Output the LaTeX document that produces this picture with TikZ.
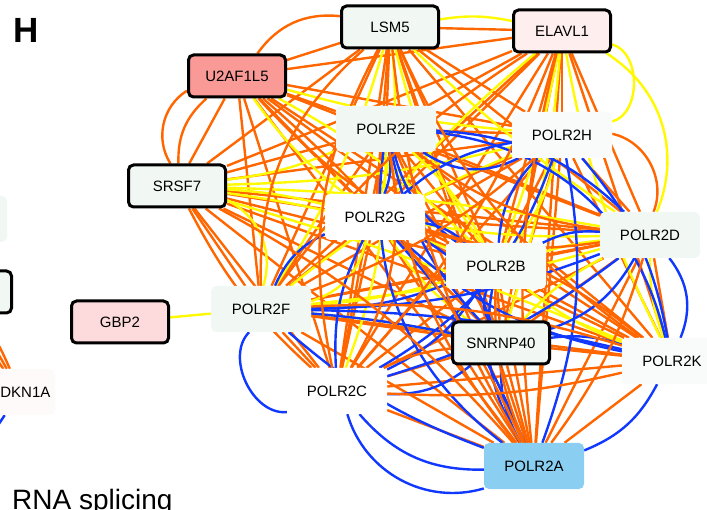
\documentclass[tikz,border=0pt]{standalone}
\usepackage{fontspec}
\setmainfont{Liberation Sans}
\usetikzlibrary{backgrounds}
\definecolor{edgeorange}{RGB}{255,102,0}
\definecolor{edgeyellow}{RGB}{255,250,0}
\definecolor{edgeblue}{RGB}{16,56,255}
\definecolor{palegreen}{RGB}{241,248,244}
\definecolor{paleblue}{RGB}{138,207,242}
\definecolor{salmon}{RGB}{249,154,151}
\definecolor{palepink}{RGB}{253,218,219}
\definecolor{blush}{RGB}{255,238,238}

\begin{document}
\begin{tikzpicture}[x=1pt,y=-1pt,
gene/.style={rounded corners=5pt, minimum width=100pt, minimum height=46pt, inner sep=0pt, fill=palegreen, font=\fontsize{15}{17}\selectfont},
hub/.style={gene, draw, line width=3pt, minimum width=97pt, minimum height=42pt},
oe/.style={draw=edgeorange, line width=2.4pt},
ye/.style={draw=edgeyellow, line width=2.4pt},
be/.style={draw=edgeblue, line width=2.4pt}
]
\useasboundingbox (0,0) rectangle (707,510);
\node[font=\bfseries\fontsize{35}{35}\selectfont, anchor=base west, inner sep=0pt] (panel) at (13,43) {H};
\node[font=\fontsize{28}{28}\selectfont, anchor=base west, inner sep=0pt] (title) at (12,509) {RNA splicing};

\node[hub] (LSM5) at (390,27) {LSM5};
\node[hub, fill=blush] (ELAVL1) at (562,31) {ELAVL1};
\node[hub, fill=salmon] (U2AF1L5) at (237,76) {U2AF1L5};
\node[hub] (SRSF7) at (177,186) {SRSF7};
\node[gene] (POLR2E) at (386,129) {POLR2E};
\node[gene, fill=white] (POLR2G) at (375,217) {POLR2G};
\node[gene, fill=palegreen!50] (POLR2H) at (562,135) {POLR2H};
\node[gene] (POLR2D) at (650,235) {POLR2D};
\node[gene, fill=palegreen!60] (POLR2B) at (496,266) {POLR2B};
\node[gene] (POLR2F) at (261,309) {POLR2F};
\node[hub] (SNRNP40) at (501,343) {SNRNP40};
\node[gene, fill=palegreen!50] (POLR2K) at (672,361) {POLR2K};
\node[gene, fill=white] (POLR2C) at (337,391) {POLR2C};
\node[gene, fill=paleblue] (POLR2A) at (534,466) {POLR2A};
\node[hub, fill=palepink] (GBP2) at (120,322) {GBP2};
\node[gene, fill=blush!30, minimum width=70pt] (CDKN1A) at (20,392) {CDKN1A};
\node[gene] (leftA) at (-43,219) {};
\node[hub] (leftB) at (-37,292) {};
\coordinate (offL) at (-15,445);

\begin{scope}[on background layer]
% orange links, every pair of the core
\foreach \u [count=\i] in {LSM5,ELAVL1,U2AF1L5,SRSF7,POLR2E,POLR2G,POLR2H,POLR2D,POLR2B,POLR2F,SNRNP40,POLR2K,POLR2C,POLR2A}
  \foreach \v [count=\j] in {LSM5,ELAVL1,U2AF1L5,SRSF7,POLR2E,POLR2G,POLR2H,POLR2D,POLR2B,POLR2F,SNRNP40,POLR2K,POLR2C,POLR2A}
    {\ifnum\i<\j \draw[oe] (\u) -- (\v);\fi}
% yellow links
\foreach \u/\v/\b in {LSM5/ELAVL1/10, ELAVL1/POLR2D/40, ELAVL1/POLR2H/75, SRSF7/POLR2E/-8, SRSF7/POLR2H/-6,
  SRSF7/POLR2G/5, SRSF7/POLR2B/6, SRSF7/POLR2D/4, SRSF7/POLR2K/3, U2AF1L5/POLR2H/-5, U2AF1L5/POLR2G/-8,
  U2AF1L5/POLR2B/8, LSM5/POLR2G/10, LSM5/POLR2B/-10, LSM5/POLR2D/-5, LSM5/POLR2F/8, ELAVL1/POLR2B/5,
  ELAVL1/POLR2G/-5, ELAVL1/POLR2K/-8, ELAVL1/SNRNP40/6, POLR2F/POLR2B/-6, POLR2F/POLR2D/-5, POLR2B/POLR2D/5,
  POLR2B/POLR2K/-8, SNRNP40/POLR2D/10, POLR2G/POLR2D/-5, POLR2E/POLR2B/10, POLR2G/SNRNP40/-10, POLR2F/POLR2H/8,
  POLR2F/SNRNP40/3, GBP2/POLR2F/0, POLR2D/POLR2K/-10, POLR2H/POLR2B/12, POLR2C/POLR2E/-10, POLR2F/POLR2G/-30,
  SRSF7/POLR2F/40}
  \draw[ye] (\u) to[bend left=\b] (\v);
% blue links
\foreach \u/\v/\b in {POLR2E/POLR2G/15, POLR2E/POLR2B/-20, POLR2E/POLR2D/20, POLR2G/POLR2A/10, POLR2G/POLR2C/-15,
  POLR2G/POLR2B/15, POLR2H/POLR2B/-20, POLR2H/POLR2K/15, POLR2H/POLR2C/20, POLR2D/POLR2B/-15, POLR2D/SNRNP40/20,
  POLR2B/SNRNP40/-25, POLR2B/POLR2C/15, POLR2B/POLR2A/-20, POLR2F/SNRNP40/3, POLR2F/POLR2A/-10, POLR2K/SNRNP40/-12,
  POLR2K/POLR2A/20, POLR2C/SNRNP40/-20, SNRNP40/POLR2A/-15, POLR2E/POLR2A/-30, POLR2G/POLR2K/-15, POLR2E/POLR2H/-30,
  POLR2F/POLR2D/-10, POLR2E/POLR2K/35, POLR2D/POLR2K/30, POLR2F/POLR2C/-70, POLR2C/POLR2A/-25, POLR2C/POLR2A/-45,
  POLR2G/SNRNP40/20, POLR2G/POLR2F/-20, POLR2E/SNRNP40/-15, POLR2H/POLR2A/15, POLR2D/POLR2C/10, POLR2B/POLR2F/10,
  POLR2H/POLR2G/-15, POLR2K/POLR2F/-6, CDKN1A/offL/0}
  \draw[be] (\u) to[bend left=\b] (\v);
% orange arcs
\foreach \u/\v/\b in {U2AF1L5/LSM5/30, SRSF7/U2AF1L5/25, SRSF7/U2AF1L5/45, POLR2H/POLR2D/50, U2AF1L5/POLR2B/-10,
  U2AF1L5/POLR2A/12, SRSF7/POLR2C/-10, SRSF7/POLR2A/10, LSM5/POLR2C/-20, LSM5/POLR2A/-12, LSM5/POLR2K/-15,
  ELAVL1/POLR2A/-10, ELAVL1/POLR2C/10, ELAVL1/POLR2F/-10, POLR2E/POLR2D/-15, POLR2G/POLR2K/12, POLR2C/POLR2K/-8,
  POLR2C/SNRNP40/10, POLR2F/POLR2K/10, POLR2B/POLR2A/-12, POLR2D/POLR2A/10, POLR2E/POLR2A/-15, POLR2G/POLR2D/-12,
  POLR2H/POLR2F/10, POLR2E/POLR2C/20, LSM5/POLR2F/-25, CDKN1A/leftB/0, CDKN1A/leftB/6, CDKN1A/leftB/-6}
  \draw[oe] (\u) to[bend left=\b] (\v);
\end{scope}
\end{tikzpicture}
\end{document}
